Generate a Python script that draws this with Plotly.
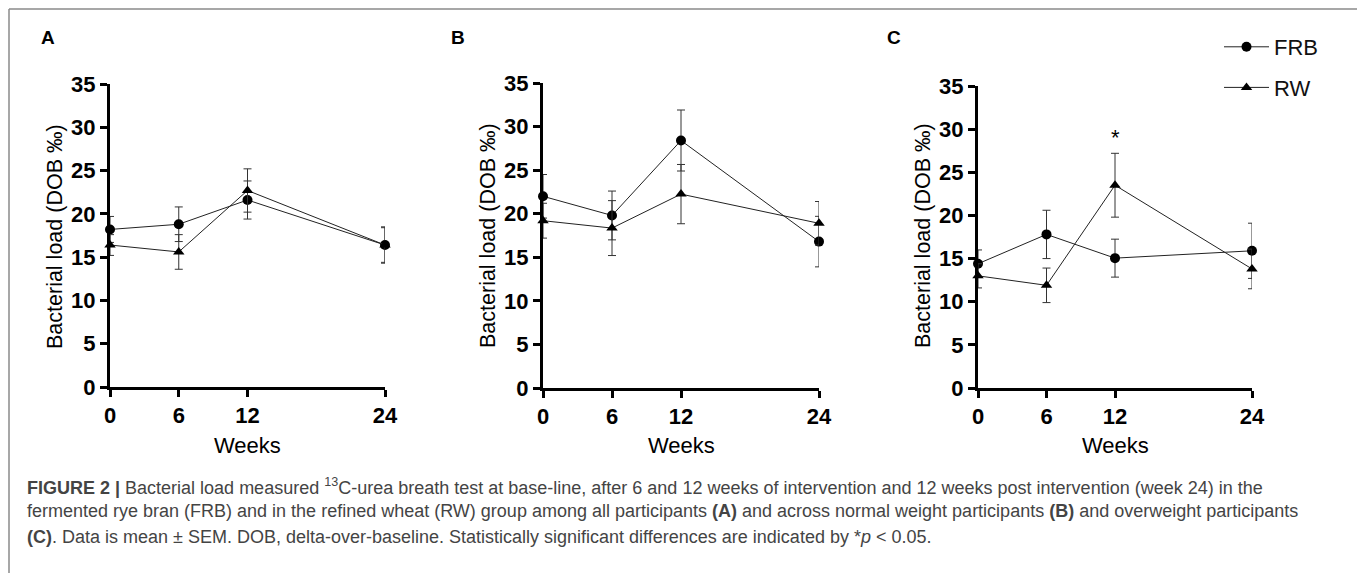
import plotly.graph_objects as go

W, H = 1357, 573

weeks = [0, 6, 12, 24]
tick_vals_y = [0, 5, 10, 15, 20, 25, 30, 35]

# Panel A - all participants
a_frb = [18.2, 18.8, 21.6, 16.4]
a_frb_sem = [1.5, 2.0, 2.2, 2.0]
a_rw = [16.4, 15.6, 22.7, 16.4]
a_rw_sem = [1.2, 2.0, 2.5, 2.1]

# Panel B - normal weight participants
b_frb = [22.0, 19.8, 28.4, 16.8]
b_frb_sem = [2.5, 2.8, 3.5, 2.9]
b_rw = [19.2, 18.35, 22.25, 18.9]
b_rw_sem = [2.0, 3.15, 3.4, 2.5]

# Panel C - overweight participants
c_frb = [14.4, 17.8, 15.05, 15.9]
c_frb_sem = [1.6, 2.8, 2.2, 3.2]
c_rw = [13.0, 11.9, 23.5, 13.8]
c_rw_sem = [1.4, 2.0, 3.7, 2.3]

panel_letters = ["A", "B", "C"]
series_names = ["FRB", "RW"]
y_title = "Bacterial load (DOB ‰)"
x_title = "Weeks"

panels = [
    (a_frb, a_frb_sem, a_rw, a_rw_sem),
    (b_frb, b_frb_sem, b_rw, b_rw_sem),
    (c_frb, c_frb_sem, c_rw, c_rw_sem),
]

# pixel layout of the three plot areas (left, right, top, bottom)
boxes = [(110, 385, 84, 387), (543, 819, 83, 388), (978, 1252, 86, 388)]

def px(x):
    return x / W

def py(y):
    return 1 - y / H

fig = go.Figure()
FONT = "Liberation Sans"

for i, (frb, frb_sem, rw, rw_sem) in enumerate(panels):
    n = "" if i == 0 else str(i + 1)
    xa, ya = "x" + n, "y" + n
    for name, vals, sem, sym, size in [
        (series_names[0], frb, frb_sem, "circle", 10),
        (series_names[1], rw, rw_sem, "triangle-up", 10),
    ]:
        fig.add_trace(go.Scatter(
            x=weeks, y=vals, mode="lines+markers", name=name,
            xaxis=xa, yaxis=ya, cliponaxis=False,
            line=dict(color="#222222", width=1),
            marker=dict(symbol=sym, size=size, color="#000000"),
            error_y=dict(type="data", array=sem, visible=True, width=4,
                         thickness=1, color="#333333"),
            showlegend=(i == 2), legendgroup=name,
        ))

layout = dict(
    width=W, height=H,
    margin=dict(l=0, r=0, t=0, b=0, pad=0, autoexpand=False),
    paper_bgcolor="white", plot_bgcolor="white",
    showlegend=True,
    legend=dict(x=px(1219), y=py(26), xanchor="left", yanchor="top",
                font=dict(family=FONT, size=22, color="#111111"),
                itemwidth=45, tracegroupgap=9, bgcolor="rgba(0,0,0,0)"),
)

annotations = []
shapes = []
for i, (l, r, t, b) in enumerate(boxes):
    n = "" if i == 0 else str(i + 1)
    axis_common = dict(showgrid=False, zeroline=False, showline=True,
                       linecolor="#000000", linewidth=3, ticks="outside",
                       ticklen=7, tickwidth=3, tickcolor="#000000",
                       layer="below traces", automargin=False,
                       tickfont=dict(family=FONT, size=22, color="#000000",
                                     weight="bold"))
    layout["xaxis" + n] = dict(domain=[px(l), px(r)], range=[0, 24],
                               tickvals=weeks, anchor="y" + n,
                               fixedrange=True, **axis_common)
    layout["yaxis" + n] = dict(domain=[py(b), py(t)], range=[0, 35],
                               tickvals=tick_vals_y, anchor="x" + n,
                               fixedrange=True, **axis_common)
    cx = (l + r) / 2
    annotations.append(dict(text=x_title, x=px(cx), y=py(445), xref="paper",
                            yref="paper", xanchor="center", yanchor="middle",
                            showarrow=False,
                            font=dict(family=FONT, size=22, color="#000000")))
    annotations.append(dict(text=y_title, x=px(l - 55), y=py(236),
                            xref="paper", yref="paper", showarrow=False,
                            xanchor="center", yanchor="middle",
                            textangle=-90,
                            font=dict(family=FONT, size=21.5, color="#000000")))

letter_x = [48, 458, 894]
for lx, letter in zip(letter_x, panel_letters):
    annotations.append(dict(text="<b>" + letter + "</b>", x=px(lx), y=py(37),
                            xref="paper", yref="paper", showarrow=False,
                            xanchor="center", yanchor="middle",
                            font=dict(family=FONT, size=19, color="#000000")))

# significance marker in panel C at week 12
annotations.append(dict(text="*", x=12, y=29.0, xref="x3", yref="y3",
                        showarrow=False, xanchor="center", yanchor="middle",
                        font=dict(family=FONT, size=22, color="#000000")))

caption_lines = [
    "<b>FIGURE 2 |</b> Bacterial load measured <sup>13</sup>C-urea breath test at base-line, after 6 and 12 weeks of intervention and 12 weeks post intervention (week 24) in the",
    "fermented rye bran (FRB) and in the refined wheat (RW) group among all participants <b>(A)</b> and across normal weight participants <b>(B)</b> and overweight participants",
    "<b>(C)</b>. Data is mean ± SEM. DOB, delta-over-baseline. Statistically significant differences are indicated by *<i>p</i> &lt; 0.05.",
]
caption_y = [486, 511, 537]
for txt, cy in zip(caption_lines, caption_y):
    annotations.append(dict(text=txt, x=px(25), y=py(cy), xref="paper",
                            yref="paper", xanchor="left", yanchor="middle",
                            showarrow=False, align="left",
                            font=dict(family=FONT, size=18, color="#444444")))

# figure frame (top and left borders)
shapes.append(dict(type="line", xref="paper", yref="paper",
                   x0=px(9), x1=1, y0=py(9), y1=py(9),
                   line=dict(color="#8a8a8a", width=1.5)))
shapes.append(dict(type="line", xref="paper", yref="paper",
                   x0=px(9), x1=px(9), y0=py(9), y1=0,
                   line=dict(color="#8a8a8a", width=1.5)))

layout["annotations"] = annotations
layout["shapes"] = shapes
fig.update_layout(**layout)

fig.write_html("out.html",
               config={"displayModeBar": False, "staticPlot": True},
               post_script="document.body.style.margin='0';"
                           "document.body.style.overflow='hidden';")
